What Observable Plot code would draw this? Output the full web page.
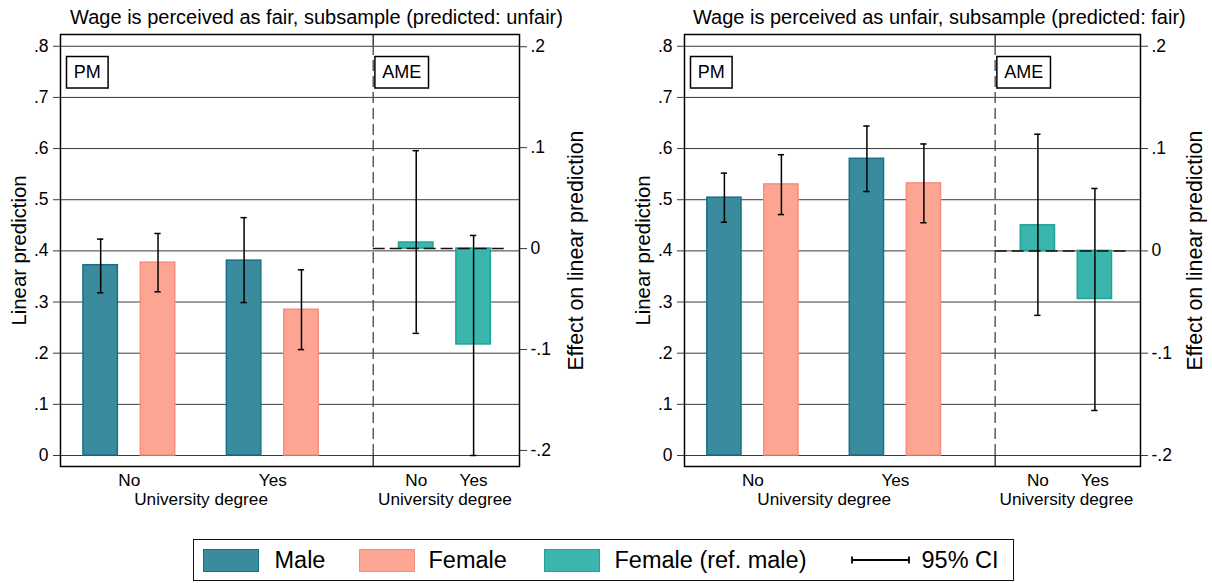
<!DOCTYPE html>
<html><head><meta charset="utf-8">
<script src="https://cdn.jsdelivr.net/npm/d3@7"></script>
<script src="https://cdn.jsdelivr.net/npm/@observablehq/plot@0.6"></script>
<style>
body{margin:0;background:#fff;}
#wrap{position:relative;width:1212px;height:583px;font-family:"Liberation Sans",Arial,sans-serif;overflow:hidden;background:#fff}
.panel{position:absolute;top:0}
#legend{position:absolute;left:193px;top:539px;width:819px;height:40px;border:1.5px solid #111;background:#fff}
.sw{position:absolute;top:9px;width:54px;height:21px;border:1.5px solid}
.lt{position:absolute;top:0;line-height:41px;font-size:23.5px;color:#000;white-space:nowrap}
</style></head><body>
<div id="wrap"><div id="p0" class="panel" style="left:0"></div><div id="p1" class="panel" style="left:606px"></div><div id="legend"></div></div>
<script>
// ---- data ----
const degreeLabels = ["No", "Yes"];
const sexLabels = ["Male", "Female"];
const legendLabels = ["Male", "Female", "Female (ref. male)"];
const ciLabel = "95% CI";
const panelTitles = [
  "Wage is perceived as fair, subsample (predicted: unfair)",
  "Wage is perceived as unfair, subsample (predicted: fair)"
];
const sectionLabels = ["PM", "AME"];
const xTitle = "University degree";
const yTitleLeft = "Linear prediction";
const yTitleRight = "Effect on linear prediction";

// predictive margins, order: No-Male, No-Female, Yes-Male, Yes-Female
const pmFair   = [0.372, 0.377, 0.381, 0.285];
const pmFairLo = [0.318, 0.320, 0.299, 0.207];
const pmFairHi = [0.423, 0.434, 0.465, 0.363];
// average marginal effects (female vs. male), order: No, Yes
const ameFair   = [0.006, -0.095];
const ameFairLo = [-0.084, -0.205];
const ameFairHi = [0.097, 0.013];

const pmUnfair   = [0.504, 0.530, 0.580, 0.532];
const pmUnfairLo = [0.456, 0.471, 0.516, 0.455];
const pmUnfairHi = [0.552, 0.588, 0.644, 0.609];
const ameUnfair   = [0.025, -0.047];
const ameUnfairLo = [-0.063, -0.156];
const ameUnfairHi = [0.114, 0.061];

const leftTicks = [0, 0.1, 0.2, 0.3, 0.4, 0.5, 0.6, 0.7, 0.8];
const leftTickLabels = ["0", ".1", ".2", ".3", ".4", ".5", ".6", ".7", ".8"];
const rightTicks = [-0.2, -0.1, 0, 0.1, 0.2];
const rightTickLabels = ["-.2", "-.1", "0", ".1", ".2"];

// ---- styles ----
const fillColors = {"Male": "#3a8b9d", "Female": "#fca593", "Female (ref. male)": "#3bb5ad"};
const strokeColors = {"Male": "#17708a", "Female": "#f98d7b", "Female (ref. male)": "#1ca498"};
const FONT = '"Liberation Sans", Arial, sans-serif';

function panel(el, cfg) {
  const toL = r => cfg.a + cfg.b * r;
  const divider = 10.9, half = 0.6, cap = 0.11;
  const pmRows = [];
  degreeLabels.forEach((deg, g) => sexLabels.forEach((sex, s) => {
    const i = g * 2 + s;
    pmRows.push({deg, sex, v: cfg.pm[i], lo: cfg.pmLo[i], hi: cfg.pmHi[i], c: 1.4 + 5 * g + 2 * s});
  }));
  const ameRows = degreeLabels.map((deg, g) => ({deg, sex: legendLabels[2], v: cfg.ame[g], lo: cfg.ameLo[g], hi: cfg.ameHi[g], c: 12.4 + 2 * g}));
  const xLabRows = degreeLabels.map((deg, g) => ({t: deg, c: 2.4 + 5 * g}))
    .concat(degreeLabels.map((deg, g) => ({t: deg, c: 12.4 + 2 * g})));
  const xTitleRows = [{t: xTitle, c: 4.9}, {t: xTitle, c: 13.4}];
  const rightTicksL = rightTicks.map(toL);
  const yMin = -0.0215, yMax = 0.823;

  const plot = Plot.plot({
    width: 606, height: 520,
    marginLeft: cfg.ml, marginRight: cfg.mr, marginTop: 34, marginBottom: 54,
    x: {domain: [0, 16], axis: null},
    y: {domain: [yMin, yMax], axis: null},
    style: {fontFamily: FONT, fontSize: "17.5px", background: "white", color: "black"},
    marks: [
      Plot.ruleY(leftTicks, {stroke: "#3a3a3a", strokeWidth: 1}),
      Plot.axisY(leftTicks, {anchor: "left", label: null, tickSize: 7, tickPadding: 5, stroke: "#3a3a3a",
        tickFormat: d => leftTickLabels[leftTicks.indexOf(d)], fontSize: 17.5}),
      Plot.axisY(rightTicksL, {anchor: "right", label: null, tickSize: 7, tickPadding: 4, stroke: "#3a3a3a",
        tickFormat: d => rightTickLabels[rightTicksL.indexOf(d)], fontSize: 17.5}),
      // divider between PM and AME
      Plot.ruleX([divider], {y1: 0, y2: 0.8, stroke: "#444", strokeWidth: 1.3, strokeDasharray: "11,5"}),
      Plot.ruleX([divider], {y1: 0.8, y2: yMax, stroke: "#222", strokeWidth: 1.3}),
      Plot.ruleX([divider], {y1: yMin, y2: 0, stroke: "#222", strokeWidth: 1.3}),
      // PM bars
      Plot.rect(pmRows, {x1: d => d.c - half, x2: d => d.c + half, y1: d => 0, y2: "v",
        fill: d => fillColors[d.sex], stroke: d => strokeColors[d.sex], strokeWidth: 1.5}),
      // AME bars
      Plot.rect(ameRows, {x1: d => d.c - half, x2: d => d.c + half, y1: d => toL(0), y2: d => toL(d.v),
        fill: d => fillColors[d.sex], stroke: d => strokeColors[d.sex], strokeWidth: 1.5}),
      // zero reference line in AME section
      Plot.ruleY([toL(0)], {x1: divider, x2: 15.6, stroke: "#111", strokeWidth: 1.5, strokeDasharray: "12,5"}),
      // CIs
      Plot.ruleX(pmRows, {x: "c", y1: "lo", y2: "hi", stroke: "black", strokeWidth: 1.5}),
      Plot.ruleY(pmRows, {y: "lo", x1: d => d.c - cap, x2: d => d.c + cap, stroke: "black", strokeWidth: 1.5}),
      Plot.ruleY(pmRows, {y: "hi", x1: d => d.c - cap, x2: d => d.c + cap, stroke: "black", strokeWidth: 1.5}),
      Plot.ruleX(ameRows, {x: "c", y1: d => toL(d.lo), y2: d => toL(d.hi), stroke: "black", strokeWidth: 1.5}),
      Plot.ruleY(ameRows, {y: d => toL(d.lo), x1: d => d.c - cap, x2: d => d.c + cap, stroke: "black", strokeWidth: 1.5}),
      Plot.ruleY(ameRows, {y: d => toL(d.hi), x1: d => d.c - cap, x2: d => d.c + cap, stroke: "black", strokeWidth: 1.5}),
      // section labels
      Plot.text([sectionLabels[0]], {frameAnchor: "top-left", dx: 13.3, dy: 38, textAnchor: "start", lineAnchor: "middle", fontSize: 18}),
      Plot.text([sectionLabels[1]], {x: [divider], frameAnchor: "top", dx: 9, dy: 38, textAnchor: "start", lineAnchor: "middle", fontSize: 18}),
      // x labels
      Plot.text(xLabRows, {x: "c", text: "t", frameAnchor: "bottom", dy: 14, lineAnchor: "middle", fontSize: 17.2}),
      Plot.text(xTitleRows, {x: "c", text: "t", frameAnchor: "bottom", dy: 33, lineAnchor: "middle", fontSize: 17.2}),
      // titles
      Plot.text([cfg.title], {frameAnchor: "top", dx: cfg.titleDx, dy: -17, textAnchor: "middle", lineAnchor: "middle", fontSize: 20}),
      Plot.text([yTitleLeft], {frameAnchor: "left", dx: cfg.ltDx, rotate: -90, textAnchor: "middle", lineAnchor: "middle", fontSize: 20.3}),
      Plot.text([yTitleRight], {frameAnchor: "right", dx: cfg.rtDx, rotate: -90, textAnchor: "middle", lineAnchor: "middle", fontSize: 21.3}),
      Plot.frame({stroke: "black", strokeWidth: 1.5})
    ]
  });
  el.appendChild(plot);
  // boxes around the section labels
  const ns = "http://www.w3.org/2000/svg";
  plot.querySelectorAll("text").forEach(t => {
    if (!sectionLabels.includes(t.textContent)) return;
    const bb = t.getBBox();
    const r = document.createElementNS(ns, "rect");
    const padX = 7.3, h = 31.5;
    r.setAttribute("x", bb.x - padX);
    r.setAttribute("y", bb.y + bb.height / 2 - h / 2);
    r.setAttribute("width", bb.width + 2 * padX);
    r.setAttribute("height", h);
    r.setAttribute("fill", "white");
    r.setAttribute("stroke", "black");
    r.setAttribute("stroke-width", "1.5");
    if (t.getAttribute("transform")) r.setAttribute("transform", t.getAttribute("transform"));
    t.parentNode.insertBefore(r, t);
  });
}

panel(document.getElementById("p0"), {
  pm: pmFair, pmLo: pmFairLo, pmHi: pmFairHi, ame: ameFair, ameLo: ameFairLo, ameHi: ameFairHi,
  title: panelTitles[0], a: 0.4045, b: 1.973, ml: 60, mr: 87, titleDx: 26.5, ltDx: -41, rtDx: 57
});
panel(document.getElementById("p1"), {
  pm: pmUnfair, pmLo: pmUnfairLo, pmHi: pmUnfairHi, ame: ameUnfair, ameLo: ameUnfairLo, ameHi: ameUnfairHi,
  title: panelTitles[1], a: 0.4, b: 2, ml: 78, mr: 72, titleDx: 26.8, ltDx: -41, rtDx: 55
});

// legend
const lg = document.getElementById("legend");
const swLeft = [9.3, 164.5, 349.5], txLeft = [80.5, 234.5, 420.5];
legendLabels.forEach((lab, i) => {
  const s = document.createElement("div");
  s.className = "sw"; s.style.left = swLeft[i] + "px";
  s.style.background = fillColors[lab]; s.style.borderColor = strokeColors[lab];
  lg.appendChild(s);
  const t = document.createElement("div");
  t.className = "lt"; t.style.left = txLeft[i] + "px"; t.textContent = lab;
  lg.appendChild(t);
});
const ci = document.createElementNS("http://www.w3.org/2000/svg", "svg");
ci.setAttribute("width", 62); ci.setAttribute("height", 40);
ci.style.position = "absolute"; ci.style.left = "656px"; ci.style.top = "0px";
ci.innerHTML = '<line x1="2" x2="59" y1="20" y2="20" stroke="black" stroke-width="1.8"/><line x1="2" x2="2" y1="16.5" y2="23.5" stroke="black" stroke-width="1.8"/><line x1="59" x2="59" y1="16.5" y2="23.5" stroke="black" stroke-width="1.8"/>';
lg.appendChild(ci);
const ct = document.createElement("div");
ct.className = "lt"; ct.style.left = "727.5px"; ct.textContent = ciLabel;
lg.appendChild(ct);
</script>
</body></html>
